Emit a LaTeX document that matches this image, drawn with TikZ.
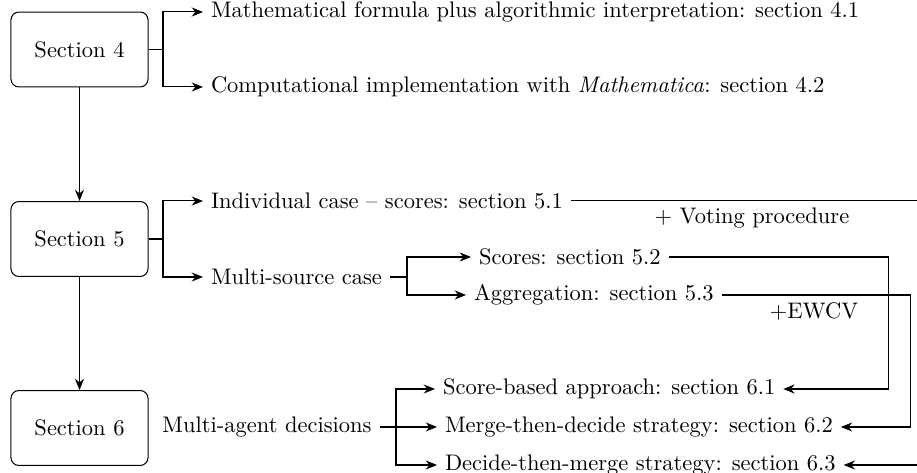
\documentclass[tikz,border=0pt]{standalone}
\usetikzlibrary{arrows.meta}
\begin{document}
\begin{tikzpicture}[x=0.4444pt,y=-0.4444pt,
  secbox/.style={draw,rounded corners=3.5pt,minimum width=60.9pt,minimum height=33.3pt,inner sep=2pt},
  lbl/.style={inner sep=3.33pt},
  arr/.style={-{Stealth[length=5pt,width=4pt,inset=1.6pt]}},
  line width=0.45pt]
\path[use as bounding box] (0,0) rectangle (917,473);
\clip (0,0) rectangle (917,473);
% section boxes
\node[secbox] (s4) at (79.5,49.5) {Section 4};
\node[secbox] (s5) at (79.5,239) {Section 5};
\node[secbox] (s6) at (79.5,428) {Section 6};
% texts
\node[lbl,anchor=west] (t41) at (203,12) {Mathematical formula plus algorithmic interpretation: section 4.1};
\node[lbl,anchor=west] (t42) at (203,87) {Computational implementation with \emph{Mathematica}: section 4.2};
\node[lbl,anchor=west] (t51) at (203,201) {Individual case -- scores: section 5.1};
\node[lbl,anchor=west] (t5m) at (203,277) {Multi-source case};
\node[lbl,anchor=west] (t52) at (471,257) {Scores: section 5.2};
\node[lbl,anchor=west] (t53) at (466,295) {Aggregation: section 5.3};
\node[lbl] (t6m) at (267,427) {Multi-agent decisions};
\node[lbl,anchor=west] (t61) at (435,389) {Score-based approach: section 6.1};
\node[lbl,anchor=west] (t62) at (437,427) {Merge-then-decide strategy: section 6.2};
\node[lbl,anchor=west] (t63) at (437,465) {Decide-then-merge strategy: section 6.3};
\node[lbl] (vote) at (752,218) {+ Voting procedure};
\node[lbl] (ewcv) at (814,312) {+EWCV};
% branch points
\coordinate (b4) at (163,49.5);
\coordinate (b5) at (163,239);
\coordinate (b5m) at (407,277);
\coordinate (b6) at (396,427);
\coordinate (r1) at (888,257);
\coordinate (r2) at (910,295);
\coordinate (r3) at (935,201);
% connectors
\draw[arr] (s4.south) -- (s5.north);
\draw[arr] (s5.south) -- (s6.north);
\draw (s4.east) -- (b4);
\draw[arr] (b4) |- (t41.west);
\draw[arr] (b4) |- (t42.west);
\draw (s5.east) -- (b5);
\draw[arr] (b5) |- (t51.west);
\draw[arr] (b5) |- (t5m.west);
\draw (t5m.east) -- (b5m);
\draw[arr] (b5m) |- (t52.west);
\draw[arr] (b5m) |- (t53.west);
\draw[arr] (t6m.east) -- (t62.west);
\draw[arr] (b6) |- (t61.west);
\draw[arr] (b6) |- (t63.west);
\draw[arr] (t52.east) -- (r1) |- (t61.east);
\draw[arr] (t53.east) -- (r2) |- (t62.east);
\draw[arr] (t51.east) -- (r3) |- (t63.east);
\end{tikzpicture}
\end{document}
